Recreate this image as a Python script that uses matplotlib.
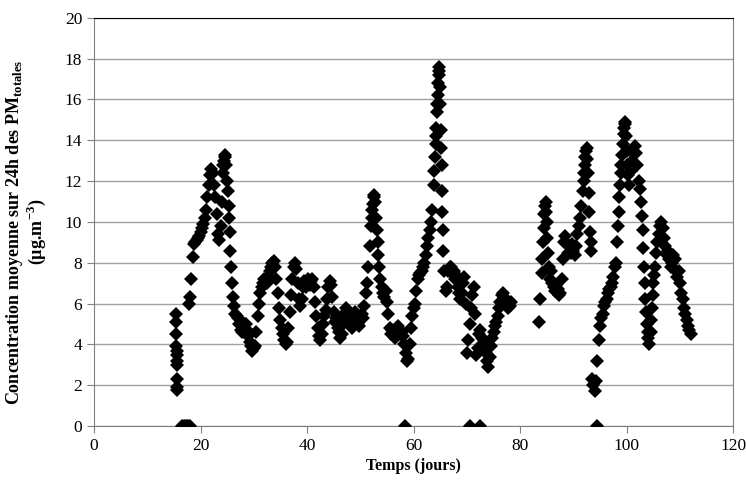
import numpy as np
import matplotlib.pyplot as plt

plt.rcParams['font.family'] = ['Liberation Serif', 'DejaVu Serif']
plt.rcParams['mathtext.fontset'] = 'custom'
plt.rcParams['mathtext.rm'] = 'Liberation Serif'
plt.rcParams['mathtext.bf'] = 'Liberation Serif:bold'

# isolated start-up values (around day 15.5)
start_t = [15.4, 15.4, 15.45, 15.45, 15.5, 15.5, 15.5, 15.55, 15.55, 15.6, 15.6]
start_v = [5.5, 5.1, 4.5, 3.9, 3.7, 3.5, 3.2, 3.0, 2.3, 1.9, 1.75]

# zero values (missing data)
zero_t = [16.5, 16.8, 17.1, 17.4, 17.7, 18.0, 58.4, 70.6, 72.4, 94.4]

# first continuous block, every 6 h from day 17.75
b_start = 17.75
b_vals = [
    6.0,
    6.3, 7.2, 8.3, 8.9,       # 18
    9.0, 9.1, 9.2, 9.3,       # 19
    9.5, 9.7, 9.9, 10.2,      # 20
    10.6, 11.2, 11.8, 12.3,   # 21
    12.6, 12.4, 11.8, 11.2,   # 22
    10.4, 9.4, 9.1, 9.8,      # 23
    11.0, 12.4, 13.2, 12.8,   # 24
    12.0, 10.8, 9.5, 7.8,     # 25
    6.3, 5.9, 5.5, 5.4,       # 26
    5.3, 5.0, 4.7, 4.6,       # 27
    4.8, 5.0, 5.0, 4.7,       # 28
    4.4, 4.1, 3.9, 3.7,       # 29
    3.8, 3.9, 4.6, 5.4,       # 30
    6.0, 6.5, 6.8, 7.0,       # 31
    7.2, 7.1, 7.0, 7.3,       # 32
    7.6, 7.8, 8.0, 8.1,       # 33
    7.8, 7.2, 6.5, 5.8,       # 34
    5.2, 4.8, 4.5, 4.2,       # 35
    4.0, 4.1, 4.8, 5.6,       # 36
    6.4, 7.2, 7.8, 8.0,       # 37
    7.7, 7.0, 6.2, 5.9,       # 38
    6.2, 6.8, 7.1, 6.8,       # 39
    7.0, 7.2, 6.9, 7.1,       # 40
    7.2, 6.8, 6.1, 5.4,       # 41
    4.8, 4.4, 4.2, 4.5,       # 42
    5.0, 5.4, 5.7, 6.2,       # 43
    6.8, 7.1, 6.9, 6.3,       # 44
    5.6, 5.1, 5.3, 4.8,       # 45
    4.6, 4.3, 4.5, 5.0,       # 46
    5.5, 5.8, 5.5, 5.2,       # 47
    5.3, 5.0, 4.8, 5.2,       # 48
    5.6, 5.4, 5.0, 4.9,       # 49
    5.2, 5.5, 5.3, 5.9,       # 50
    6.5, 7.0, 7.8, 8.8,       # 51
    9.8, 10.6, 11.2, 11.0,    # 52
    10.2, 9.0, 7.8, 7.2,      # 53
    6.8, 6.5, 6.3, 6.6,       # 54
    6.1, 5.5, 4.8, 4.5,       # 55
    4.7, 4.5, 4.3, 4.6,       # 56
    4.9, 4.7, 4.5, 4.6,       # 57
    4.4, 4.0, 3.6, 3.2,       # 58
    3.3, 4.0, 4.8, 5.4,       # 59
    5.8, 6.0, 6.6, 7.2,       # 60
    7.4, 7.5, 7.6, 7.8,       # 61
    8.0, 8.4, 8.8, 9.2,       # 62
    9.6, 10.0, 10.6, 11.8,    # 63
    13.2, 14.6, 16.2, 17.6,   # 64
    15.8, 12.8, 9.6, 7.6,     # 65
    6.6, 6.8, 7.6, 7.8,       # 66
    7.8, 7.5, 7.6, 7.2,       # 67
    7.4, 6.8, 6.5, 6.2,       # 68
    6.5, 7.0, 7.3, 6.0,       # 69
    3.6, 4.2, 5.0, 5.8,       # 70
    6.4, 6.8, 5.5, 3.5,       # 71
    3.8, 4.5, 4.7, 4.3,       # 72
    4.0, 4.2, 3.6, 3.2,       # 73
    2.9, 3.4, 3.9, 4.3,       # 74
    4.6, 4.9, 5.1, 5.4,       # 75
    5.8, 6.1, 6.4, 6.5,       # 76
    6.3, 6.0, 6.1, 5.8,       # 77
    5.9, 6.1,                 # 78
]

# second continuous block, every 6 h from day 83.5
c_start = 83.5
c_vals = [
    5.1, 6.2,
    7.5, 9.0, 10.4, 11.0,     # 84
    10.0, 8.5, 7.2, 7.6,      # 85
    7.0, 6.8, 6.6, 6.9,       # 86
    6.7, 6.4, 6.5, 7.2,       # 87
    8.2, 9.0, 9.3, 8.9,       # 88
    8.5, 8.8, 8.5, 8.9,       # 89
    8.6, 8.4, 8.8, 9.4,       # 90
    9.8, 10.2, 10.8, 11.5,    # 91
    12.4, 13.2, 13.6, 12.4,   # 92
    10.5, 8.6, 2.3, 2.0,      # 93
    1.7, 2.2, 3.2, 4.2,       # 94
    4.9, 5.3, 5.5, 5.9,       # 95
    6.1, 6.2, 6.5, 6.7,       # 96
    6.8, 7.0, 7.3, 7.8,       # 97
    8.0, 9.0, 10.5, 11.8,     # 98
    12.8, 13.8, 14.6, 14.9,   # 99
    13.5, 12.3, 11.8, 12.5,   # 100
    13.0, 13.4, 13.7, 13.4,   # 101
    12.8, 12.0, 11.6, 11.0,   # 102
    9.6, 7.8, 6.2, 5.0,       # 103
    4.3, 4.0, 4.6, 5.8,       # 104
    7.0, 7.8, 8.5, 9.0,       # 105
    9.4, 9.8, 10.0, 9.7,      # 106
    9.2, 8.8, 8.4, 8.6,       # 107
    8.2, 7.8, 8.0, 8.4,       # 108
    8.2, 7.6, 7.3, 7.6,       # 109
    7.0, 6.5, 6.2, 5.8,       # 110
    5.5, 5.2, 4.9, 4.7,       # 111
    4.5,                      # 112
]

# extra readings on the steep flanks
extra_t = [24.3, 24.4, 24.6, 25.1, 25.4, 25.6, 25.9,
           52.1, 52.4, 52.6, 53.1, 53.4,
           63.9, 64.1, 64.2, 64.35, 64.45, 64.6, 64.7, 64.8, 64.9,
           65.1, 65.15, 65.35, 65.4, 65.6,
           84.1, 84.4, 84.6, 84.9, 85.1, 85.4,
           91.9, 92.1, 92.4, 92.6, 92.9, 93.1, 93.2,
           98.4, 98.6, 98.9, 99.1, 99.4, 99.6, 99.9, 100.1,
           102.9, 103.1, 103.4, 103.6, 103.9,
           104.6, 104.9, 105.1]
extra_v = [12.8, 13.0, 13.3, 11.5, 10.2, 8.6, 7.0,
           10.2, 10.9, 11.3, 9.6, 8.4,
           12.5, 13.8, 14.2, 15.4, 15.8, 16.8, 17.4, 17.2, 16.6,
           14.5, 13.6, 11.5, 10.5, 8.6,
           8.2, 9.7, 10.8, 10.5, 9.2, 7.8,
           12.0, 12.8, 13.5, 13.1, 11.4, 9.5, 9.0,
           9.8, 11.2, 12.4, 13.3, 14.3, 14.8, 14.2, 12.8,
           10.3, 8.7, 7.0, 5.6, 4.6,
           5.2, 6.4, 7.4]

b_t = b_start + 0.25 * np.arange(len(b_vals))
c_t = c_start + 0.25 * np.arange(len(c_vals))

t_all = np.concatenate([start_t, zero_t, b_t, c_t, extra_t])
v_all = np.concatenate([start_v, np.zeros(len(zero_t)), b_vals, c_vals, extra_v])

fig = plt.figure(figsize=(7.46, 4.83), dpi=100)
ax = fig.add_axes([0.126, 0.118, 0.857, 0.845])

ax.plot(t_all, v_all, linestyle='none', marker='D', markersize=7,
        color='black', markeredgewidth=0, zorder=3)

ax.set_xlim(0, 120)
ax.set_ylim(0, 20)
ax.set_xticks(np.arange(0, 121, 20))
ax.set_yticks(np.arange(0, 21, 2))
ax.yaxis.grid(True, color='#a0a0a0', linewidth=1)
ax.set_axisbelow(True)
for s in ax.spines.values():
    s.set_color('#808080')
ax.spines['top'].set_color('black')
ax.tick_params(direction='out', length=5, color='#808080', labelsize=12.5)

ax.set_xlabel('Temps (jours)', fontsize=11.5, fontweight='bold', labelpad=3)
ax.set_ylabel('Concentration moyenne sur 24h des PM$_{\\mathbf{totales}}$\n(µg.m$^{\\mathbf{-3}}$)',
              fontsize=13, fontweight='bold', linespacing=1.0)
ax.yaxis.set_label_coords(-0.072, 0.475)

fig.savefig('out.png', dpi=100)
